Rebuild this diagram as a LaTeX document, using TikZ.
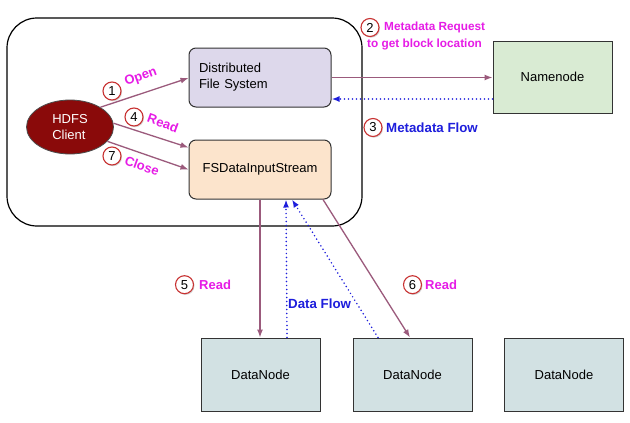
\documentclass[tikz,border=0pt]{standalone}
\usepackage{fontspec}
\setmainfont{Liberation Sans}
\usetikzlibrary{arrows.meta,shapes.geometric,shadows,calc}
\definecolor{mauve}{HTML}{9B5A7C}
\definecolor{mag}{HTML}{E61CE6}
\definecolor{flowblue}{HTML}{1E1EDC}
\definecolor{dfsfill}{HTML}{DDD8EB}
\definecolor{fsfill}{HTML}{FCE4CC}
\definecolor{nnfill}{HTML}{D9EBD3}
\definecolor{dnfill}{HTML}{D2E1E3}
\definecolor{clientfill}{HTML}{8A0A0A}
\definecolor{numred}{HTML}{C83232}
\begin{document}
\begin{tikzpicture}[x=1pt,y=-1pt,
  txt/.style={font=\fontsize{13}{16}\selectfont},
  rbox/.style={txt, draw=black!80, line width=1pt, rounded corners=7pt, minimum width=142pt, minimum height=59pt, inner sep=0pt},
  sbox/.style={txt, draw=black!80, line width=1pt, minimum width=119pt, minimum height=73pt, inner sep=0pt, fill=dnfill},
  req/.style={draw=mauve, line width=1.3pt, -{Latex[length=8pt,width=6pt]}},
  flow/.style={draw=flowblue, line width=1.7pt, line cap=round, dash pattern=on 0pt off 4pt, -{Latex[length=8pt,width=6pt]}},
  num/.style={circle, draw=numred, line width=1.1pt, fill=white, minimum size=18pt, inner sep=0pt, font=\fontsize{13}{13}\selectfont, drop shadow={opacity=0.35, shadow xshift=1pt, shadow yshift=-1.2pt}},
  maglbl/.style={text=mag, font=\bfseries\fontsize{13}{13}\selectfont, inner sep=0pt},
  mdlbl/.style={text=mag, font=\bfseries\fontsize{11.8}{13}\selectfont, inner sep=0pt, anchor=west},
  bluelbl/.style={text=flowblue, font=\bfseries\fontsize{13.3}{13}\selectfont, inner sep=0pt, anchor=west}
]
\useasboundingbox (0,0) rectangle (630,423);
\fill[white] (0,0) rectangle (630,423);

% client container
\draw[line width=1.2pt, rounded corners=30pt] (7,18) rectangle (362,226);

% nodes
\node[rbox, fill=dfsfill, text width=122pt, align=left] (dfs) at (260,77.5) {Distributed\\File System};
\node[rbox, fill=fsfill] (fsd) at (260,169.5) {FSDataInputStream};
\node[ellipse, fill=clientfill, draw=black!70, line width=0.8pt, minimum width=87pt, minimum height=54pt, inner sep=0pt, txt, text=white, align=left] (client) at (70,127) {HDFS\\Client};
\node[sbox, fill=nnfill, minimum height=72pt] (nn) at (552.5,77) {Namenode};
\node[sbox] (dn1) at (260.5,374.5) {DataNode};
\node[sbox] (dn2) at (412.5,374.5) {DataNode};
\node[sbox] (dn3) at (564,374.5) {DataNode};

% client arrows
\draw[req] (client.33) -- ($(dfs.west)+(0,0.5)$);
\draw[req] (client.5) -- ($(fsd.north west)+(0,8)$);
\draw[req] (client.-21) -- (fsd.west);

% namenode arrows
\coordinate (flowy) at (0,99);
\draw[req] (dfs.east) -- (dfs.east -| nn.west);
\draw[flow] (nn.west |- flowy) -- (dfs.east |- flowy);

% data node arrows
\draw[req] (fsd.south) -- (fsd.south |- dn1.north);
\draw[flow] ($(dn1.north)+(26.5,0)$) -- ($(fsd.south)+(26,0)$);
\draw[flow] ($(dn2.north)+(-34.5,0)$) -- ($(fsd.south)+(32,0)$);
\draw[req] ($(fsd.south)+(63,0)$) -- ($(dn2.north)+(-2.5,0)$);

% numbered labels
\node[num] (n1) at (112,91) {1};
\node[maglbl, rotate=20] (l1) at (141,77) {Open};
\node[num] (n4) at (134,117) {4};
\node[maglbl, rotate=-20] (l4) at (163,123) {Read};
\node[num] (n7) at (112,156) {7};
\node[maglbl, rotate=-20] (l7) at (142,166) {Close};

\node[num] (n2) at (370,27.5) {2};
\node[mdlbl] (l2a) at (384,27.5) {Metadata Request};
\node[mdlbl] (l2b) at (367,44) {to get block location};

\node[num] (n3) at (373,127.5) {3};
\node[bluelbl] (l3) at (386,128) {Metadata Flow};

\node[num] (n5) at (184.5,284.7) {5};
\node[maglbl, anchor=west] (l5) at (199,284.7) {Read};
\node[num] (n6) at (412.5,284.7) {6};
\node[maglbl, anchor=west] (l6) at (425,284.7) {Read};

\node[bluelbl] (ldf) at (288,304) {Data Flow};
\end{tikzpicture}
\end{document}
